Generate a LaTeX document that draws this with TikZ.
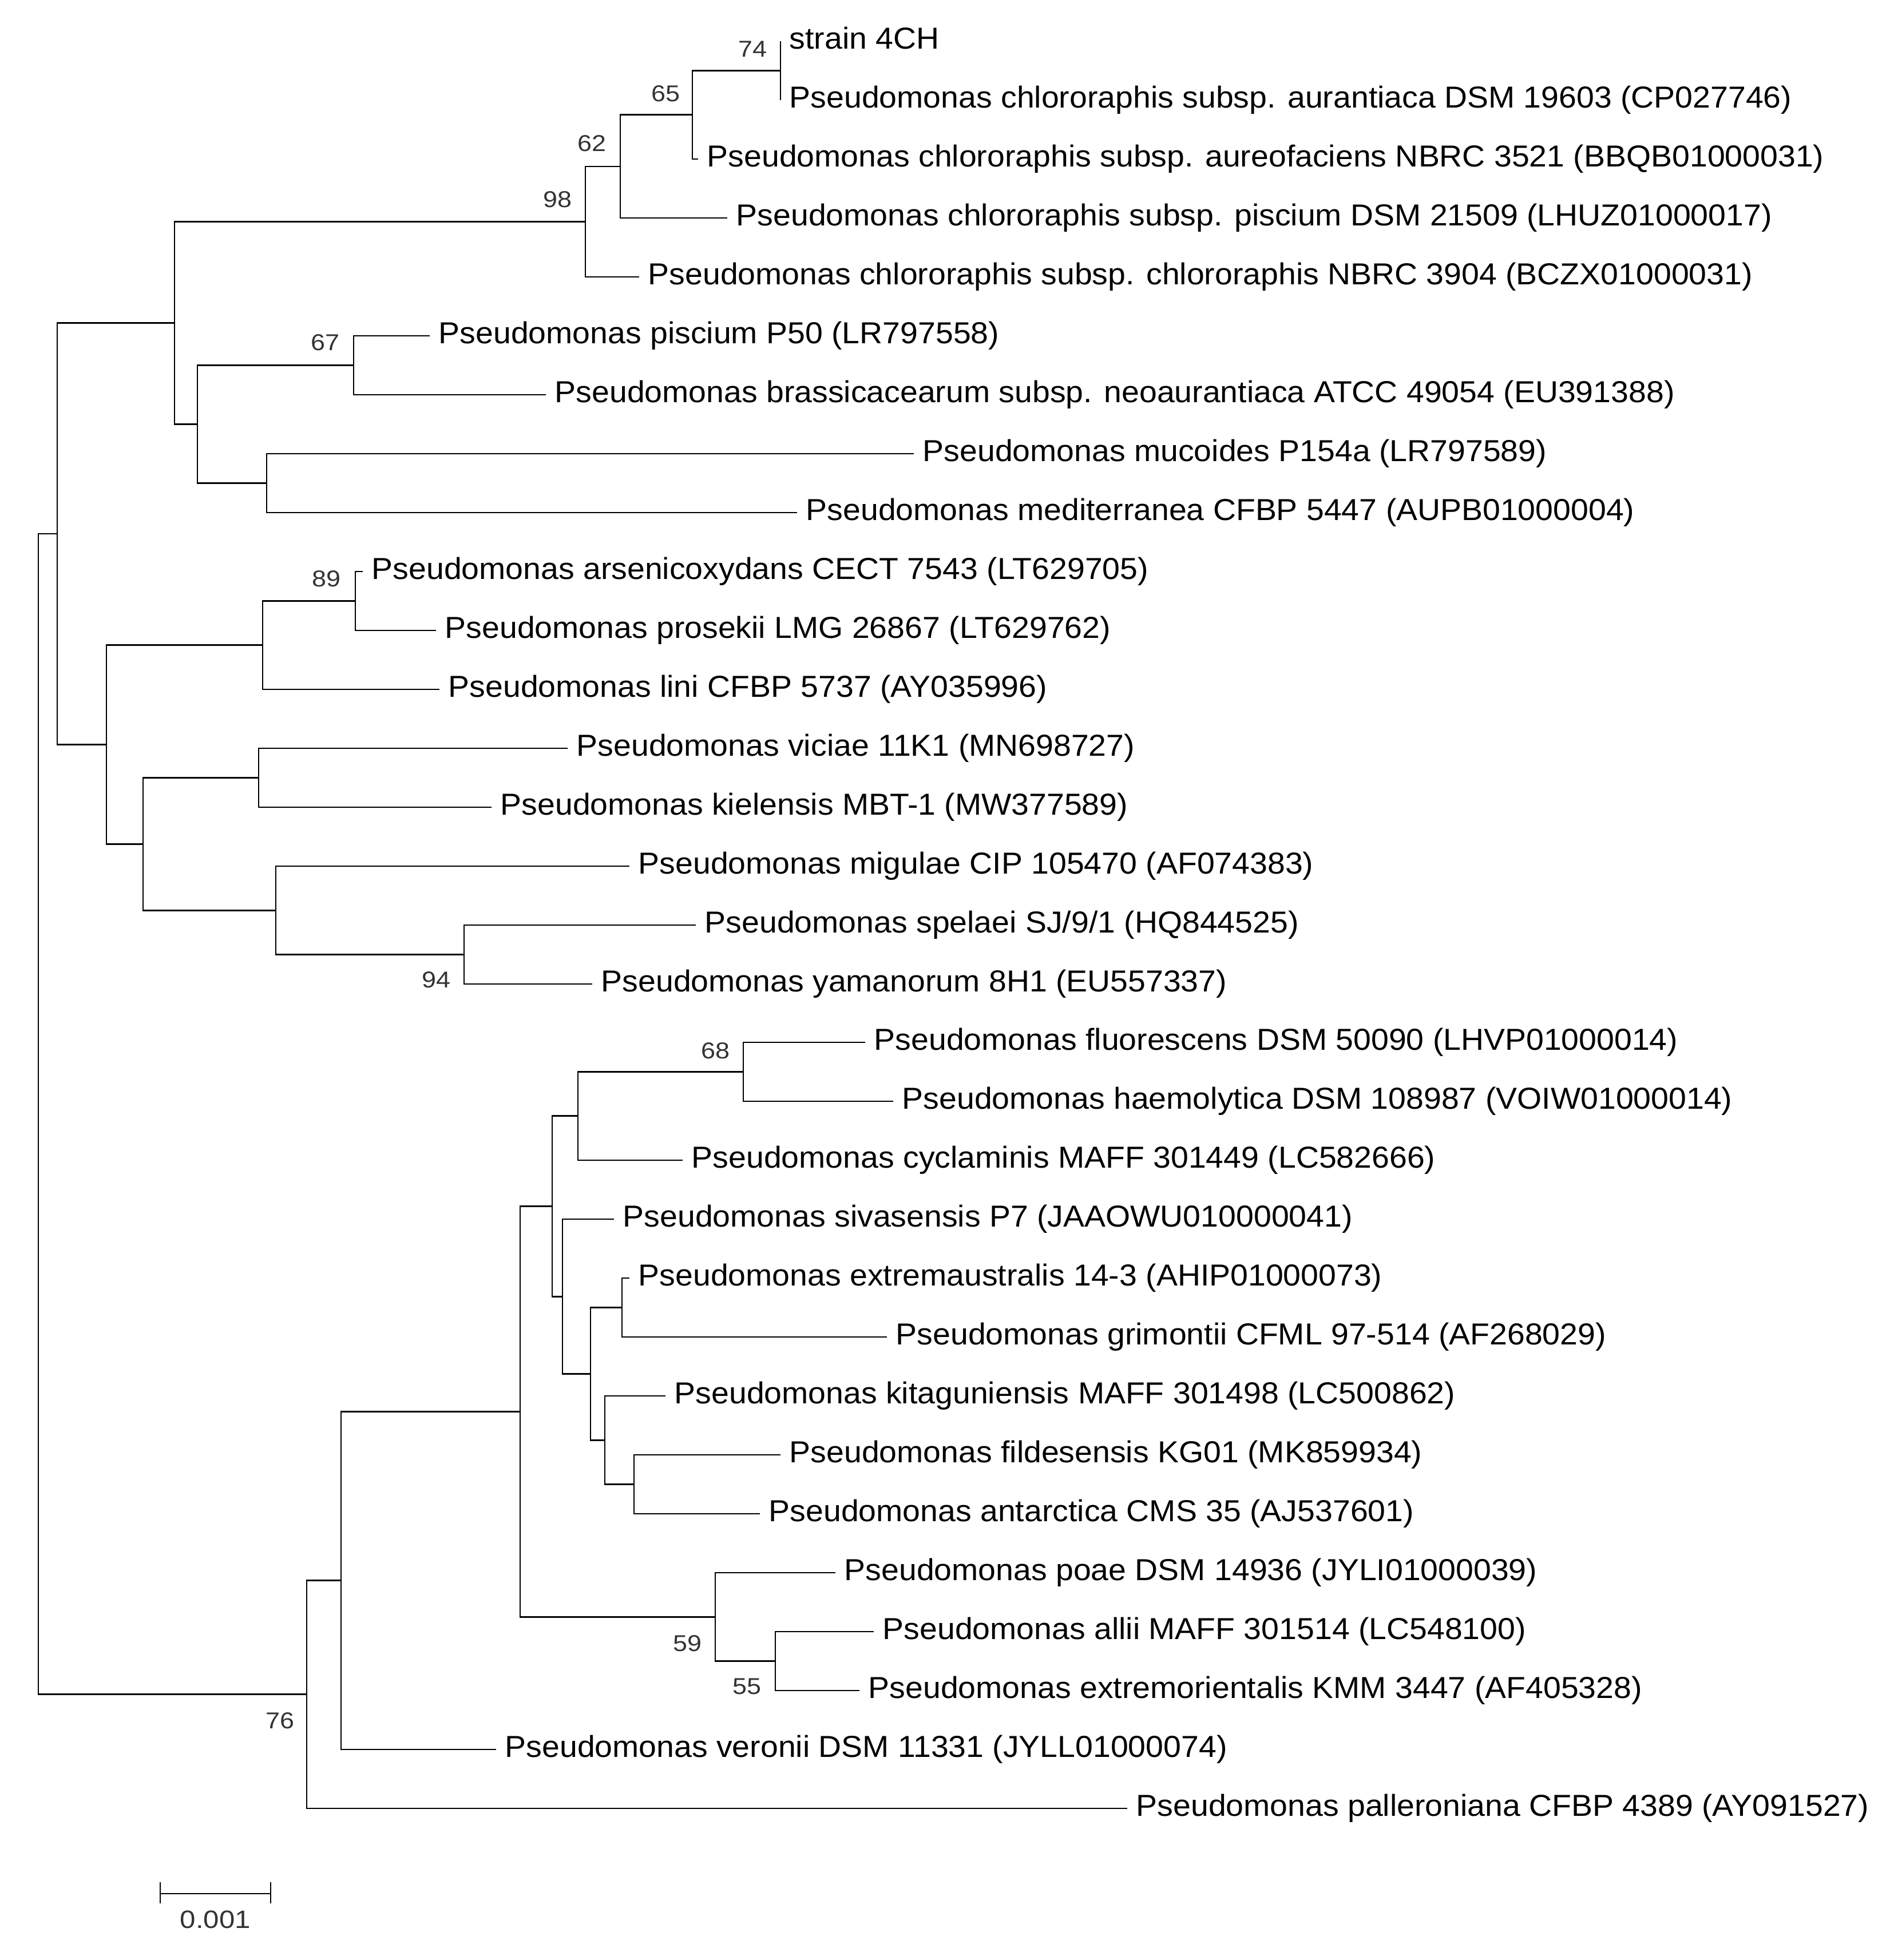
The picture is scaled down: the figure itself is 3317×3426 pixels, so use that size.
\documentclass[tikz,border=0pt]{standalone}
\usepackage{fontspec}
\setmainfont{Liberation Sans}[FakeStretch=1.045]
\newfontfamily\bsfont{Liberation Sans}[FakeStretch=1.12]
\usetikzlibrary{calc}
\tikzset{
  branch/.style={draw, line width=0.8pt},
  leaflab/.style={anchor=base west, inner sep=0pt, font=\fontsize{15.08pt}{18pt}\selectfont},
  bsabove/.style={anchor=south east, inner sep=0pt, text=black!80, font=\bsfont\fontsize{11.4pt}{13pt}\selectfont},
  bsbelow/.style={anchor=north east, inner sep=0pt, text=black!80, font=\bsfont\fontsize{11.4pt}{13pt}\selectfont},
  scalelab/.style={anchor=north, inner sep=0pt, text=black!80, font=\bsfont\fontsize{12.5pt}{14pt}\selectfont}
}
\begin{document}
\begin{tikzpicture}[x=0.01cm, y=-0.01cm]
\useasboundingbox (0,0) rectangle (3317,3426);
% internal nodes
\coordinate (root) at (67,1947.4);
\coordinate (A) at (100,933);
\coordinate (B) at (305,564.5);
\coordinate (C) at (345,741.5);
\coordinate (N98) at (1023,387.4);
\coordinate (N62) at (1084,290.9);
\coordinate (N65) at (1210,200.75);
\coordinate (N74) at (1364,123.5);
\coordinate (N67) at (618,638.5);
\coordinate (D) at (466,844.5);
\coordinate (E) at (186,1301.6);
\coordinate (F) at (459,1127.75);
\coordinate (N89) at (621,1050.5);
\coordinate (G) at (250,1475.4);
\coordinate (H) at (452,1359.5);
\coordinate (I) at (482,1591.25);
\coordinate (N94) at (811,1668.5);
\coordinate (S) at (536,2961.85);
\coordinate (R) at (596,2762.7);
\coordinate (Q) at (909,2467.4);
\coordinate (K) at (965,2108.5);
\coordinate (J) at (1010,1950.75);
\coordinate (N68) at (1299,1873.5);
\coordinate (L) at (983,2266.2);
\coordinate (M) at (1032,2401.4);
\coordinate (N) at (1087,2285.5);
\coordinate (O) at (1057,2517.25);
\coordinate (P) at (1108,2594.5);
\coordinate (N59) at (1250,2826.25);
\coordinate (N55) at (1355,2903.5);
% leaf tips
\coordinate (t1) at (1364,72);
\coordinate (t2) at (1364,175);
\coordinate (t3) at (1220,278);
\coordinate (t4) at (1271,381);
\coordinate (t5) at (1117,484);
\coordinate (t6) at (751,587);
\coordinate (t7) at (954,690);
\coordinate (t8) at (1597,793);
\coordinate (t9) at (1393,896);
\coordinate (t10) at (634,999);
\coordinate (t11) at (762,1102);
\coordinate (t12) at (768,1205);
\coordinate (t13) at (992,1308);
\coordinate (t14) at (859,1411);
\coordinate (t15) at (1100,1514);
\coordinate (t16) at (1216,1617);
\coordinate (t17) at (1035,1720);
\coordinate (t18) at (1512,1822);
\coordinate (t19) at (1561,1925);
\coordinate (t20) at (1193,2028);
\coordinate (t21) at (1073,2131);
\coordinate (t22) at (1100,2234);
\coordinate (t23) at (1550,2337);
\coordinate (t24) at (1163,2440);
\coordinate (t25) at (1364,2543);
\coordinate (t26) at (1328,2646);
\coordinate (t27) at (1460,2749);
\coordinate (t28) at (1527,2852);
\coordinate (t29) at (1502,2955);
\coordinate (t30) at (867,3058);
\coordinate (t31) at (1970,3161);
% branches
\draw[branch] (root) |- (A) (root) |- (S);
\draw[branch] (A) |- (B) (A) |- (E);
\draw[branch] (B) |- (N98) (B) |- (C);
\draw[branch] (N98) |- (N62) (N98) |- (t5);
\draw[branch] (N62) |- (N65) (N62) |- (t4);
\draw[branch] (N65) |- (N74) (N65) |- (t3);
\draw[branch] (N74) |- (t1) (N74) |- (t2);
\draw[branch] (C) |- (N67) (C) |- (D);
\draw[branch] (N67) |- (t6) (N67) |- (t7);
\draw[branch] (D) |- (t8) (D) |- (t9);
\draw[branch] (E) |- (F) (E) |- (G);
\draw[branch] (F) |- (N89) (F) |- (t12);
\draw[branch] (N89) |- (t10) (N89) |- (t11);
\draw[branch] (G) |- (H) (G) |- (I);
\draw[branch] (H) |- (t13) (H) |- (t14);
\draw[branch] (I) |- (t15) (I) |- (N94);
\draw[branch] (N94) |- (t16) (N94) |- (t17);
\draw[branch] (S) |- (R) (S) |- (t31);
\draw[branch] (R) |- (Q) (R) |- (t30);
\draw[branch] (Q) |- (K) (Q) |- (N59);
\draw[branch] (K) |- (J) (K) |- (L);
\draw[branch] (J) |- (N68) (J) |- (t20);
\draw[branch] (N68) |- (t18) (N68) |- (t19);
\draw[branch] (L) |- (t21) (L) |- (M);
\draw[branch] (M) |- (N) (M) |- (O);
\draw[branch] (N) |- (t22) (N) |- (t23);
\draw[branch] (O) |- (t24) (O) |- (P);
\draw[branch] (P) |- (t25) (P) |- (t26);
\draw[branch] (N59) |- (t27) (N59) |- (N55);
\draw[branch] (N55) |- (t28) (N55) |- (t29);
% leaf labels
\node[leaflab] (n1) at ($(t1)+(15,13)$) {strain 4CH};
\node[leaflab] (n2) at ($(t2)+(15,13)$) {Pseudomonas chlororaphis subsp. aurantiaca DSM 19603 (CP027746)};
\node[leaflab] (n3) at ($(t3)+(15,13)$) {Pseudomonas chlororaphis subsp. aureofaciens NBRC 3521 (BBQB01000031)};
\node[leaflab] (n4) at ($(t4)+(15,13)$) {Pseudomonas chlororaphis subsp. piscium DSM 21509 (LHUZ01000017)};
\node[leaflab] (n5) at ($(t5)+(15,13)$) {Pseudomonas chlororaphis subsp. chlororaphis NBRC 3904 (BCZX01000031)};
\node[leaflab] (n6) at ($(t6)+(15,13)$) {Pseudomonas piscium P50 (LR797558)};
\node[leaflab] (n7) at ($(t7)+(15,13)$) {Pseudomonas brassicacearum subsp. neoaurantiaca ATCC 49054 (EU391388)};
\node[leaflab] (n8) at ($(t8)+(15,13)$) {Pseudomonas mucoides P154a (LR797589)};
\node[leaflab] (n9) at ($(t9)+(15,13)$) {Pseudomonas mediterranea CFBP 5447 (AUPB01000004)};
\node[leaflab] (n10) at ($(t10)+(15,13)$) {Pseudomonas arsenicoxydans CECT 7543 (LT629705)};
\node[leaflab] (n11) at ($(t11)+(15,13)$) {Pseudomonas prosekii LMG 26867 (LT629762)};
\node[leaflab] (n12) at ($(t12)+(15,13)$) {Pseudomonas lini CFBP 5737 (AY035996)};
\node[leaflab] (n13) at ($(t13)+(15,13)$) {Pseudomonas viciae 11K1 (MN698727)};
\node[leaflab] (n14) at ($(t14)+(15,13)$) {Pseudomonas kielensis MBT-1 (MW377589)};
\node[leaflab] (n15) at ($(t15)+(15,13)$) {Pseudomonas migulae CIP 105470 (AF074383)};
\node[leaflab] (n16) at ($(t16)+(15,13)$) {Pseudomonas spelaei SJ/9/1 (HQ844525)};
\node[leaflab] (n17) at ($(t17)+(15,13)$) {Pseudomonas yamanorum 8H1 (EU557337)};
\node[leaflab] (n18) at ($(t18)+(15,13)$) {Pseudomonas fluorescens DSM 50090 (LHVP01000014)};
\node[leaflab] (n19) at ($(t19)+(15,13)$) {Pseudomonas haemolytica DSM 108987 (VOIW01000014)};
\node[leaflab] (n20) at ($(t20)+(15,13)$) {Pseudomonas cyclaminis MAFF 301449 (LC582666)};
\node[leaflab] (n21) at ($(t21)+(15,13)$) {Pseudomonas sivasensis P7 (JAAOWU010000041)};
\node[leaflab] (n22) at ($(t22)+(15,13)$) {Pseudomonas extremaustralis 14-3 (AHIP01000073)};
\node[leaflab] (n23) at ($(t23)+(15,13)$) {Pseudomonas grimontii CFML 97-514 (AF268029)};
\node[leaflab] (n24) at ($(t24)+(15,13)$) {Pseudomonas kitaguniensis MAFF 301498 (LC500862)};
\node[leaflab] (n25) at ($(t25)+(15,13)$) {Pseudomonas fildesensis KG01 (MK859934)};
\node[leaflab] (n26) at ($(t26)+(15,13)$) {Pseudomonas antarctica CMS 35 (AJ537601)};
\node[leaflab] (n27) at ($(t27)+(15,13)$) {Pseudomonas poae DSM 14936 (JYLI01000039)};
\node[leaflab] (n28) at ($(t28)+(15,13)$) {Pseudomonas allii MAFF 301514 (LC548100)};
\node[leaflab] (n29) at ($(t29)+(15,13)$) {Pseudomonas extremorientalis KMM 3447 (AF405328)};
\node[leaflab] (n30) at ($(t30)+(15,13)$) {Pseudomonas veronii DSM 11331 (JYLL01000074)};
\node[leaflab] (n31) at ($(t31)+(15,13)$) {Pseudomonas palleroniana CFBP 4389 (AY091527)};
% bootstrap values
\node[bsabove] (b74) at ($(N74)+(-23,-23)$) {74};
\node[bsabove] (b65) at ($(N65)+(-21,-22)$) {65};
\node[bsabove] (b62) at ($(N62)+(-24,-25)$) {62};
\node[bsabove] (b98) at ($(N98)+(-23,-24)$) {98};
\node[bsabove] (b67) at ($(N67)+(-24,-25)$) {67};
\node[bsabove] (b89) at ($(N89)+(-25,-24)$) {89};
\node[bsabove] (b68) at ($(N68)+(-23,-22)$) {68};
\node[bsbelow] (b94) at ($(N94)+(-23,29)$) {94};
\node[bsbelow] (b59) at ($(N59)+(-23,32)$) {59};
\node[bsbelow] (b55) at ($(N55)+(-24,30)$) {55};
\node[bsbelow] (b76) at ($(S)+(-21,31)$) {76};
% scale bar
\coordinate (sb1) at (280,3310);
\coordinate (sb2) at (473,3310);
\draw[branch] (sb1) -- (sb2);
\draw[branch] ($(sb1)+(0,-20)$) -- ($(sb1)+(0,17)$);
\draw[branch] ($(sb2)+(0,-20)$) -- ($(sb2)+(0,17)$);
\node[scalelab] (sbl) at ($(sb1)!0.5!(sb2)+(0,29)$) {0.001};
\end{tikzpicture}
\end{document}
